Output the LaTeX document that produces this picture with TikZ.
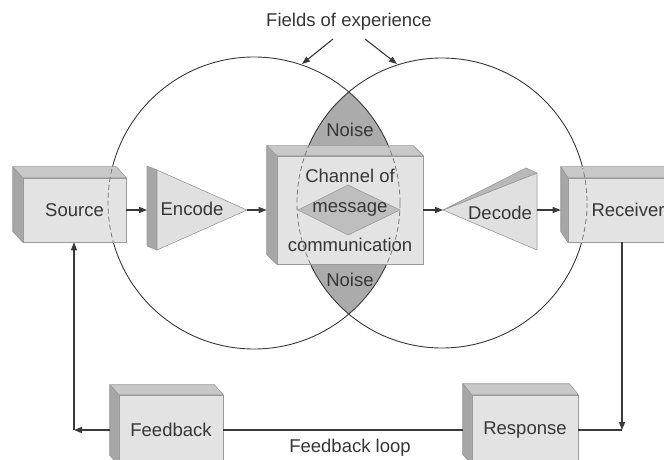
\documentclass[tikz,border=0pt]{standalone}
\usepackage{fontspec}
\setmainfont{Liberation Sans}
\usetikzlibrary{arrows.meta}
\definecolor{frontc}{HTML}{E3E3E3}
\definecolor{topc}{HTML}{C8C8C8}
\definecolor{sidec}{HTML}{A6A6A6}
\definecolor{edgec}{HTML}{9A9A9A}
\definecolor{lensc}{HTML}{ABABAB}
\definecolor{diamc}{HTML}{BEBEBE}
\definecolor{trifc}{HTML}{E0E0E0}
\definecolor{stripc}{HTML}{B8B8B8}
\definecolor{txtc}{HTML}{363636}
\definecolor{linec}{HTML}{3A3A3A}
\definecolor{dashc}{HTML}{7A7A7A}
\newcommand\threedbox[3]{%
  \filldraw[topf] (#1.north west) -- ++(-#2,-#3) -- ([shift={(-#2,-#3)}]#1.north east) -- (#1.north east) -- cycle;
  \filldraw[sidef] (#1.north west) -- ++(-#2,-#3) -- ([shift={(-#2,-#3)}]#1.south west) -- (#1.south west) -- cycle;}
\begin{document}
\begin{tikzpicture}[x=1bp,y=-1bp,
  lbl/.style={text=txtc, inner sep=0pt, font=\fontsize{18.5bp}{22bp}\selectfont},
  box/.style={lbl, draw=edgec, fill=frontc, line width=0.6bp},
  topf/.style={fill=topc, draw=edgec, line width=0.6bp, line join=round},
  sidef/.style={fill=sidec, draw=edgec, line width=0.6bp, line join=round},
  shapef/.style={draw=edgec, line width=0.6bp, line join=round},
  circ/.style={draw=linec, line width=0.9bp},
  dcirc/.style={draw=dashc, line width=0.8bp, dash pattern=on 5bp off 3bp},
  conn/.style={draw=linec, line width=1.1bp},
  arr/.style={conn, -{Triangle[length=8bp,width=6bp]}}]
\useasboundingbox (0,0) rectangle (664,460);
\clip (0,0) rectangle (664,460);
\fill[white] (0,0) rectangle (664,460);
% lens (noise)
\begin{scope}
  \clip (254,203) circle (146);
  \fill[lensc] (442,203) circle (145);
\end{scope}
\draw[circ] (254,203) circle (146);
\draw[circ] (442,203) circle (145);
% boxes
\node[box, minimum width=103bp, minimum height=64bp] (source) at (74.5,210) {Source};
\node[box, minimum width=146bp, minimum height=108bp] (channel) at (350,210) {};
\node[box, minimum width=120bp, minimum height=64bp] (receiver) at (628,210) {Receiver};
\node[box, minimum width=104bp, minimum height=70bp] (feedback) at (171,430) {Feedback};
\node[box, minimum width=106bp, minimum height=70bp] (response) at (525,430) {Response};
\threedbox{source}{10}{11}
\threedbox{channel}{10}{10}
\threedbox{receiver}{7}{11}
\threedbox{feedback}{9}{10}
\threedbox{response}{9}{11}
% diamond
\filldraw[shapef, fill=diamc] (298,210) -- (348,185) -- (400,210) -- (348,235) -- cycle;
\node[lbl] (ch1) at (350,176) {Channel of};
\node[lbl] (ch2) at (350,209) {message};
\node[lbl] (ch3) at (350,245) {communication};
% encode
\filldraw[sidef] (147,166) -- (157,170) -- (157,250) -- (147,246) -- cycle;
\filldraw[shapef, fill=trifc] (157,170) -- (247,210) -- (157,250) -- cycle;
\node[lbl] (encode) at (192,209) {Encode};
\coordinate (encL) at (147,210);
\coordinate (encR) at (247,210);
% decode
\filldraw[shapef, fill=trifc] (443,210) -- (537,173) -- (537,250) -- cycle;
\filldraw[shapef, fill=stripc] (443,210) -- (526,168) -- (537,173) -- cycle;
\node[lbl] (decode) at (500,213) {Decode};
\coordinate (decL) at (443,210);
\coordinate (decR) at (537,210);
% noise labels
\node[lbl] (noise1) at (350,130) {Noise};
\node[lbl] (noise2) at (350,280) {Noise};
% dashed circle parts over boxes
\begin{scope}
  \clip (13,167) rectangle (126,242) (267,146) rectangle (423,264) (561,168) rectangle (700,242);
  \draw[dcirc] (254,203) circle (146);
  \draw[dcirc] (442,203) circle (145);
\end{scope}
% fields of experience
\node[lbl] (fields) at (349,22) {Fields of experience};
\coordinate (fa1) at (333,39);
\coordinate (fe1) at (302,64);
\coordinate (fa2) at (365,39);
\coordinate (fe2) at (397,64);
\draw[arr] (fa1) -- (fe1);
\draw[arr] (fa2) -- (fe2);
% main row connectors
\draw[arr] (source.east) -- (encL);
\draw[arr] (encR) -- ([xshift=-10bp]channel.west);
\draw[arr] (channel.east) -- (decL);
\draw[arr] (decR) -- ([xshift=-7bp]receiver.west);
% feedback loop
\coordinate (cR) at (622,430);
\coordinate (cL) at (74,430);
\draw[arr] (cR |- receiver.south) -- (cR);
\draw[conn] (cR) -- (response.east);
\draw[conn] ([xshift=-9bp]response.west) -- (feedback.east);
\draw[arr] ([xshift=-9bp]feedback.west) -- (cL);
\draw[arr] (cL) -- (cL |- source.south);
\node[lbl] (loop) at (350,448) {Feedback loop};
\end{tikzpicture}
\end{document}
